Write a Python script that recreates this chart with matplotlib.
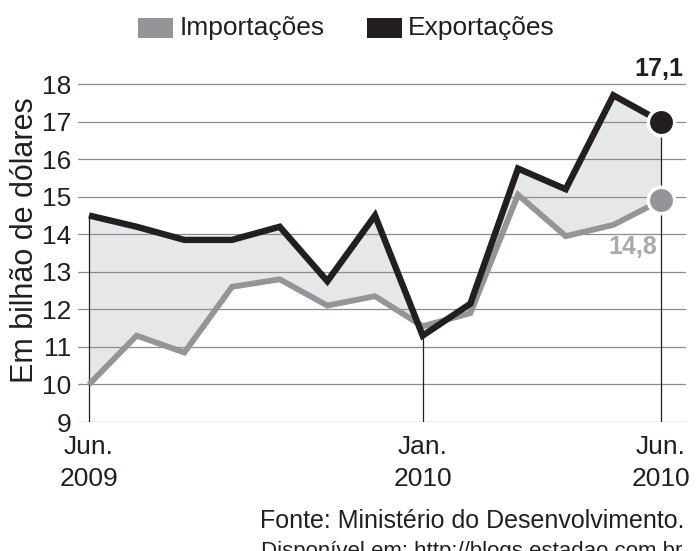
import matplotlib
matplotlib.use("Agg")
import matplotlib.pyplot as plt
from matplotlib.patches import Rectangle

plt.rcParams['font.family'] = ['Liberation Sans', 'DejaVu Sans']

# monthly values, Jun 2009 .. Jun 2010 (bilhoes de dolares)
months = list(range(13))
exportacoes = [14.5, 14.2, 13.85, 13.85, 14.2, 12.75, 14.5, 11.3, 12.15, 15.75, 15.2, 17.7, 17.0]
importacoes = [10.0, 11.3, 10.85, 12.6, 12.8, 12.1, 12.35, 11.55, 11.9, 15.05, 13.95, 14.25, 14.9]
end_labels = ["17,1", "14,8"]

xtick_pos = [0, 7, 12]
xtick_labels = ["Jun.\n2009", "Jan.\n2010", "Jun.\n2010"]
yticks = list(range(9, 19))

BLACK = '#231f20'
GRAY = '#939598'
LGRAY = '#a7a9ac'
FILL = '#e6e7e8'

W, H = 697, 551
fig = plt.figure(figsize=(W / 100, H / 100), dpi=100)
# axes placed in pixel units of the reference
ax = fig.add_axes([78 / W, 1 - 422 / H, 608 / W, (422 - 72.8) / H])
ax.set_xlim(-0.231, 12.524)
ax.set_ylim(9, 18.3)

for s in ax.spines.values():
    s.set_visible(False)

# horizontal grid
for t in yticks:
    ax.axhline(t, color='#8a8c8f', lw=0.9, zorder=2)

ax.fill_between(months, importacoes, exportacoes, color=FILL, lw=0, zorder=1)

# vertical guides at labelled months, up to the data
for m in xtick_pos:
    top = exportacoes[m] if m != 0 else max(exportacoes[m], importacoes[m])
    ax.vlines(m, 9, top, color=BLACK, lw=0.9, zorder=2.5)

ax.plot(months, importacoes, color=GRAY, lw=4.2, solid_joinstyle='miter',
        solid_capstyle='butt', zorder=3)
ax.plot(months, exportacoes, color=BLACK, lw=4.6, solid_joinstyle='miter',
        solid_capstyle='butt', zorder=4)

ax.plot(months[-1], exportacoes[-1], 'o', ms=19, color=BLACK, mec='white', mew=2.5, zorder=5)
ax.plot(months[-1], importacoes[-1], 'o', ms=19, color=GRAY, mec='white', mew=2.5, zorder=5)

ax.annotate(end_labels[0], xy=(months[-1], exportacoes[-1]), xytext=(22, 53),
            textcoords='offset pixels', ha='right', va='center',
            fontsize=18, fontweight='bold', color=BLACK)
ax.annotate(end_labels[1], xy=(months[-1], importacoes[-1]), xytext=(-4, -47),
            textcoords='offset pixels', ha='right', va='center',
            fontsize=18, fontweight='bold', color=LGRAY)

ax.set_yticks(yticks)
ax.set_yticklabels([str(t) for t in yticks], fontsize=19, color=BLACK)
ax.set_xticks(xtick_pos)
ax.set_xticklabels(xtick_labels, fontsize=19, color=BLACK, linespacing=1.45)
ax.tick_params(axis='y', length=0, pad=5)
ax.tick_params(axis='x', length=0, pad=9)

fig.text(25 / W, 1 - 240 / H, "Em bilhão de dólares", rotation=90,
         ha='center', va='center', fontsize=22, color=BLACK)

# legend
fig.patches.append(Rectangle((138 / W, 1 - 38 / H), 35 / W, 20 / H,
                             transform=fig.transFigure, color=GRAY, lw=0))
fig.text(180 / W, 1 - 28 / H, "Importações", ha='left', va='center', fontsize=19, color=BLACK)
fig.patches.append(Rectangle((367 / W, 1 - 38 / H), 35 / W, 20 / H,
                             transform=fig.transFigure, color=BLACK, lw=0))
fig.text(408 / W, 1 - 28 / H, "Exportações", ha='left', va='center', fontsize=19, color=BLACK)

fig.text(685 / W, 1 - 521.5 / H, "Fonte: Ministério do Desenvolvimento.",
         ha='right', va='center', fontsize=18, color=BLACK)
fig.text(682 / W, 1 - 557 / H, "Disponível em: http://blogs.estadao.com.br",
         ha='right', va='baseline', fontsize=16, color=BLACK)

fig.savefig("out.png", dpi=100)
